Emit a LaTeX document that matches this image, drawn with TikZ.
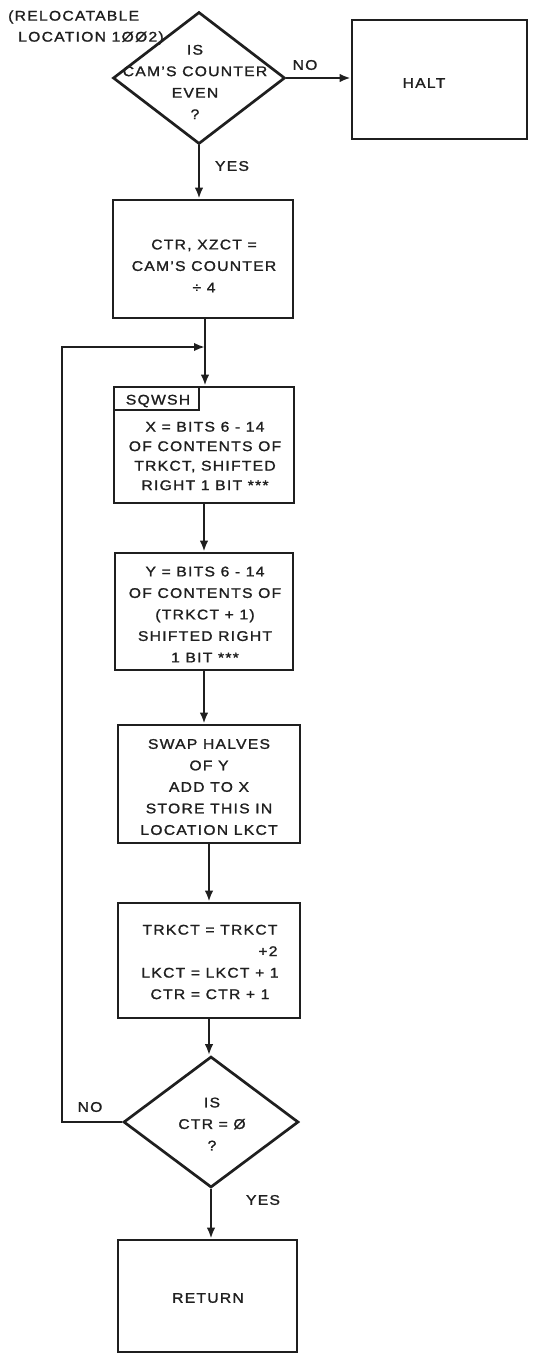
\documentclass[tikz,border=0pt]{standalone}
\usepackage{fontspec}
\usepackage{calc}
\setmainfont{Liberation Sans}[FakeStretch=1.12,LetterSpace=9,FakeBold=1.4]
\usetikzlibrary{shapes.geometric,arrows.meta}
\begin{document}
\begin{tikzpicture}[x=1pt,y=-1pt,
  every node/.style={font=\fontsize{14}{21.5}\selectfont,text=black!88},
  ln/.style={line width=2.7pt,draw=black!88},
  box/.style={ln,rectangle,inner sep=0pt},
  dia/.style={ln,diamond,inner sep=0pt},
  txt/.style={align=center,inner sep=0pt},
  arr/.style={ln,-{Latex[length=11pt,width=8.5pt]}}]
\useasboundingbox (0,0) rectangle (538,1356);
% top decision
\node[dia,minimum width=172pt,minimum height=132pt] (d1) at (199,78) {};
\node[txt] (d1t) at (195,82) {IS\\CAM'S COUNTER\\EVEN\\?};
\node[anchor=west,inner sep=0pt] (rel1) at (8,17) {(RELOCATABLE};
\node[anchor=west,inner sep=0pt] (rel2) at (18,38) {LOCATION 1ØØ2)};
\node[box,minimum width=175pt,minimum height=119pt] (halt) at (439.5,79.5) {};
\node[txt] (haltt) at (424,83) {HALT};
\node[txt] (no1) at (305,65) {NO};
\node[txt] (yes1) at (232,166) {YES};
% box 1
\node[box,minimum width=180pt,minimum height=118pt] (b1) at (203,259) {};
\node[txt] (b1t) at (204,266) {CTR, XZCT =\\CAM'S COUNTER\\÷ 4};
% SQWSH box
\node[box,minimum width=180pt,minimum height=116pt] (b2) at (204,445) {};
\node[box,minimum width=85pt,minimum height=23pt] (sq) at (156.5,398.5) {};
\node[txt] (sqt) at (158,401) {SQWSH};
\node[txt,font=\fontsize{14}{19.5}\selectfont] (b2t) at (205,456) {X = BITS 6 - 14\\OF CONTENTS OF\\TRKCT, SHIFTED\\RIGHT 1 BIT ***};
% Y box
\node[box,minimum width=178pt,minimum height=117pt] (b3) at (204,611.5) {};
\node[txt] (b3t) at (205,614.5) {Y = BITS 6 - 14\\OF CONTENTS OF\\(TRKCT + 1)\\SHIFTED RIGHT\\1 BIT ***};
% swap box
\node[box,minimum width=182pt,minimum height=118pt] (b4) at (209,784) {};
\node[txt] (b4t) at (209,787) {SWAP HALVES\\OF Y\\ADD TO X\\STORE THIS IN\\LOCATION LKCT};
% trkct box
\node[box,minimum width=182pt,minimum height=115pt] (b5) at (209,960.5) {};
\node[txt] (b5t) at (210,962) {TRKCT = TRKCT\\\makebox[\widthof{TRKCT = TRKCT}][r]{+2}\\LKCT = LKCT + 1\\CTR = CTR + 1};
% bottom decision
\node[dia,minimum width=175pt,minimum height=131pt] (d2) at (211,1122) {};
\node[txt] (d2t) at (212,1124) {IS\\CTR = Ø\\?};
\node[txt] (no2) at (90,1107) {NO};
\node[txt] (yes2) at (263,1200) {YES};
% return
\node[box,minimum width=179pt,minimum height=112pt] (ret) at (207.5,1296) {};
\node[txt] (rett) at (208,1298) {RETURN};
% connectors
\coordinate (j) at (205,347);
\coordinate (lc) at (62,347);
\draw[arr] (d1.east) -- (d1.east -| halt.west);
\draw[arr] (d1.south) -- (d1.south |- b1.north);
\draw[arr] (j |- b1.south) -- (j |- b2.north);
\draw[arr] (b2.south) -- (b2.south |- b3.north);
\draw[arr] (b3.south) -- (b3.south |- b4.north);
\draw[arr] (b4.south) -- (b5.north);
\draw[arr] (b5.south) -- (b5.south |- d2.north);
\draw[arr] (d2.south) -- (d2.south |- ret.north);
\draw[arr] (d2.west) -| (lc) -- (j);
\end{tikzpicture}
\end{document}
